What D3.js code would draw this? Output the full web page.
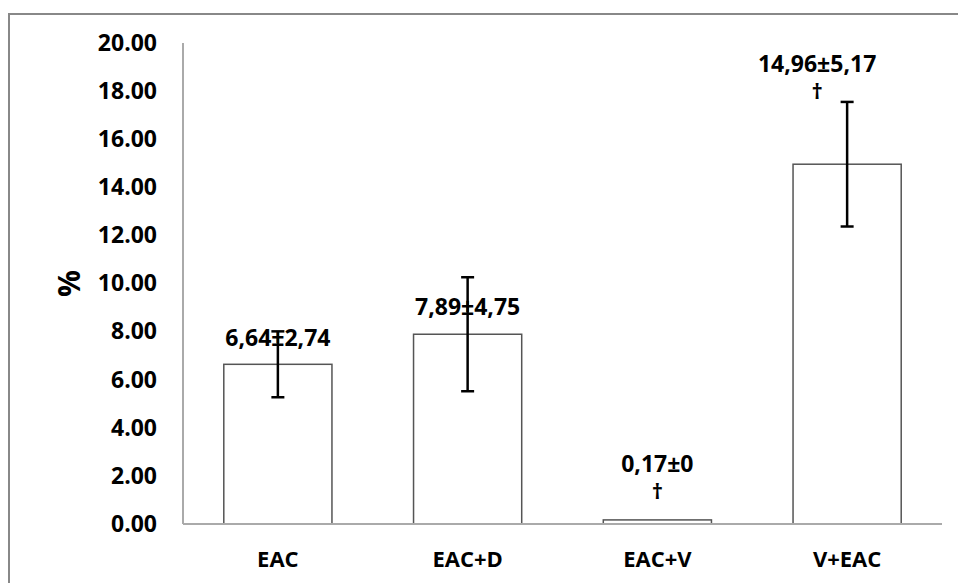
<!DOCTYPE html>
<html>
<head>
<meta charset="utf-8">
<script src="https://cdn.jsdelivr.net/npm/d3@7"></script>
<style>
  body { margin: 0; background: #fff; }
  text { font-family: "Open Sans", "Liberation Sans", sans-serif; font-weight: bold; fill: #000; }
</style>
</head>
<body>
<script>
// data
var groups = ["EAC", "EAC+D", "EAC+V", "V+EAC"];
var means = [6.64, 7.89, 0.17, 14.96];
var errHalf = [1.37, 2.37, 0, 2.59];   // drawn error bar half-length
var valueLabels = ["6,64±2,74", "7,89±4,75", "0,17±0", "14,96±5,17"];
var marks = ["", "", "†", "†"];
var yTicks = [0, 2, 4, 6, 8, 10, 12, 14, 16, 18, 20];

var svgWidth = 958, svgHeight = 583;
var margin = { top: 43, right: 16, bottom: 59, left: 183 };
var width = 942 - margin.left;
var height = 524 - margin.top;

var svg = d3.select("body").append("svg")
  .attr("width", svgWidth)
  .attr("height", svgHeight);

// outer frame (runs off the right and bottom edges)
svg.append("rect")
  .attr("x", 9).attr("y", 14)
  .attr("width", 960).attr("height", 600)
  .attr("fill", "none")
  .attr("stroke", "#888")
  .attr("stroke-width", 2);

var chartGroup = svg.append("g")
  .attr("transform", `translate(${margin.left}, ${margin.top})`);

var x = d3.scaleBand().domain(groups).range([0, width]).paddingInner(0.43).paddingOuter(0.215);
var y = d3.scaleLinear().domain([0, 20]).range([height, 0]);

// y axis labels (no tick marks)
var leftAxis = d3.axisLeft(y).tickValues(yTicks).tickFormat(d3.format(".2f")).tickSize(0).tickPadding(26);
var yAxis = chartGroup.append("g").call(leftAxis);
yAxis.select(".domain").remove();
yAxis.selectAll("text").style("font-size", "23px").attr("font-family", null);

// bars
chartGroup.selectAll("rect.bar")
  .data(groups)
  .enter()
  .append("rect")
  .attr("class", "bar")
  .attr("x", function(d) { return x(d); })
  .attr("y", function(d, i) { return y(means[i]); })
  .attr("width", x.bandwidth())
  .attr("height", function(d, i) { return height - y(means[i]); })
  .attr("fill", "#fff")
  .attr("stroke", "#555")
  .attr("stroke-width", 1.5);

// axis lines
chartGroup.append("line")
  .attr("x1", 0).attr("x2", 0).attr("y1", 0).attr("y2", height)
  .attr("stroke", "#aaa").attr("stroke-width", 2);
chartGroup.append("line")
  .attr("x1", 0).attr("x2", width).attr("y1", height).attr("y2", height)
  .attr("stroke", "#aaa").attr("stroke-width", 2);

// error bars
var eb = chartGroup.selectAll("g.err")
  .data(groups.filter(function(d, i) { return errHalf[i] > 0; }))
  .enter()
  .append("g")
  .attr("class", "err");
eb.each(function(d) {
  var i = groups.indexOf(d);
  var cx = x(d) + x.bandwidth() / 2;
  var y0 = y(means[i] - errHalf[i]), y1 = y(means[i] + errHalf[i]);
  var g = d3.select(this);
  g.append("line").attr("x1", cx).attr("x2", cx).attr("y1", y0).attr("y2", y1);
  g.append("line").attr("x1", cx - 6.5).attr("x2", cx + 6.5).attr("y1", y0).attr("y2", y0);
  g.append("line").attr("x1", cx - 6.5).attr("x2", cx + 6.5).attr("y1", y1).attr("y2", y1);
  g.selectAll("line").attr("stroke", "#000").attr("stroke-width", 2.5);
});

// value labels above bars
var labelX = [0, 0, 0, -30];
var labelY = [346, 315, 472, 72];
chartGroup.selectAll("text.val")
  .data(groups)
  .enter()
  .append("text")
  .attr("class", "val")
  .attr("x", function(d, i) { return x(d) + x.bandwidth() / 2 + labelX[i]; })
  .attr("y", function(d, i) { return labelY[i] - margin.top; })
  .attr("text-anchor", "middle")
  .style("font-size", "23px")
  .text(function(d, i) { return valueLabels[i]; });

chartGroup.selectAll("text.mark")
  .data(groups)
  .enter()
  .append("text")
  .attr("class", "mark")
  .attr("x", function(d, i) { return x(d) + x.bandwidth() / 2 + labelX[i]; })
  .attr("y", function(d, i) { return labelY[i] + 27 - margin.top; })
  .attr("text-anchor", "middle")
  .style("font-size", "22px")
  .text(function(d, i) { return marks[i]; });

// category labels
chartGroup.selectAll("text.cat")
  .data(groups)
  .enter()
  .append("text")
  .attr("class", "cat")
  .attr("x", function(d) { return x(d) + x.bandwidth() / 2; })
  .attr("y", 567 - margin.top)
  .attr("text-anchor", "middle")
  .style("font-size", "22px")
  .text(function(d) { return d; });

// y axis title
chartGroup.append("text")
  .attr("transform", `translate(${-103}, ${height / 2}) rotate(-90)`)
  .attr("text-anchor", "middle")
  .style("font-size", "30px")
  .text("%");
</script>
</body>
</html>
